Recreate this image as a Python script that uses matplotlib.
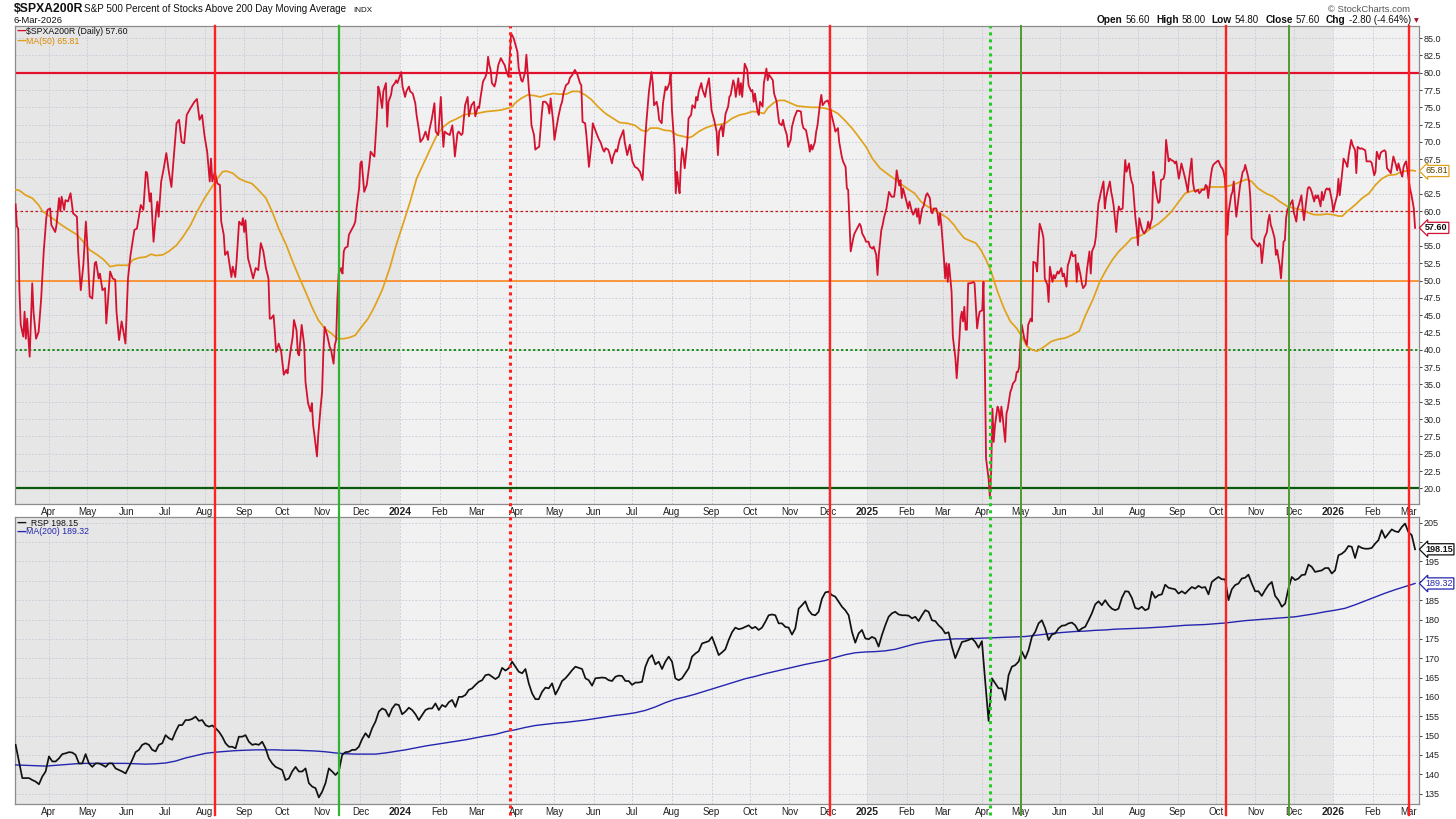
import matplotlib
matplotlib.use('Agg')
import matplotlib.pyplot as plt
import matplotlib.dates as mdates
from datetime import datetime
import pandas as pd

# ---------------- DATA ----------------
pct_dates = [
'2023-03-06','2023-03-07','2023-03-08','2023-03-09','2023-03-10','2023-03-12','2023-03-13','2023-03-14','2023-03-15','2023-03-17',
'2023-03-19','2023-03-20','2023-03-22','2023-03-24','2023-03-26','2023-03-28','2023-03-30','2023-03-31','2023-04-02','2023-04-03',
'2023-04-06','2023-04-07','2023-04-09','2023-04-10','2023-04-11','2023-04-13','2023-04-14','2023-04-16','2023-04-18','2023-04-20',
'2023-04-23','2023-04-24','2023-04-26','2023-04-28','2023-04-30','2023-05-01','2023-05-03','2023-05-05','2023-05-07','2023-05-08',
'2023-05-10','2023-05-11','2023-05-13','2023-05-15','2023-05-16','2023-05-19','2023-05-21','2023-05-23','2023-05-24','2023-05-26',
'2023-05-28','2023-05-29','2023-05-31','2023-06-02','2023-06-04','2023-06-07','2023-06-09','2023-06-12','2023-06-14','2023-06-16',
'2023-06-17','2023-06-19','2023-06-20','2023-06-22','2023-06-24','2023-06-25','2023-06-26','2023-06-28','2023-06-30','2023-07-02',
'2023-07-04','2023-07-06','2023-07-07','2023-07-10','2023-07-12','2023-07-14','2023-07-16','2023-07-18','2023-07-21','2023-07-24',
'2023-07-26','2023-07-28','2023-07-30','2023-08-01','2023-08-03','2023-08-05','2023-08-06','2023-08-07','2023-08-09','2023-08-11',
'2023-08-13','2023-08-14','2023-08-16','2023-08-17','2023-08-19','2023-08-20','2023-08-22','2023-08-23','2023-08-25','2023-08-26',
'2023-08-28','2023-08-30','2023-08-31','2023-09-01','2023-09-02','2023-09-04','2023-09-06','2023-09-08','2023-09-10','2023-09-12',
'2023-09-14','2023-09-16','2023-09-18','2023-09-20','2023-09-21','2023-09-22','2023-09-24','2023-09-25','2023-09-26','2023-09-28',
'2023-09-30','2023-10-02','2023-10-04','2023-10-05','2023-10-07','2023-10-09','2023-10-10','2023-10-12','2023-10-13','2023-10-14',
'2023-10-16','2023-10-18','2023-10-19','2023-10-21','2023-10-23','2023-10-24','2023-10-25','2023-10-26','2023-10-28','2023-10-29',
'2023-10-31','2023-11-01','2023-11-02','2023-11-03','2023-11-05','2023-11-07','2023-11-08','2023-11-10','2023-11-11','2023-11-12',
'2023-11-13','2023-11-14','2023-11-16','2023-11-17','2023-11-18','2023-11-19','2023-11-21','2023-11-22','2023-11-24','2023-11-26',
'2023-11-27','2023-11-28','2023-11-30','2023-12-01','2023-12-02','2023-12-04','2023-12-06','2023-12-08','2023-12-09','2023-12-11',
'2023-12-12','2023-12-14','2023-12-15','2023-12-16','2023-12-18','2023-12-19','2023-12-21','2023-12-22','2023-12-23','2023-12-25',
'2023-12-26','2023-12-28','2023-12-29','2023-12-30',
'2024-01-02','2024-01-03','2024-01-05','2024-01-06','2024-01-08','2024-01-09','2024-01-11','2024-01-13','2024-01-14','2024-01-16',
'2024-01-17','2024-01-19','2024-01-21','2024-01-23','2024-01-24','2024-01-26','2024-01-28','2024-01-29','2024-01-31','2024-02-02',
'2024-02-03','2024-02-04','2024-02-05','2024-02-07','2024-02-09','2024-02-11','2024-02-12','2024-02-13','2024-02-15','2024-02-16',
'2024-02-18','2024-02-19','2024-02-21','2024-02-23','2024-02-24','2024-02-26','2024-02-28','2024-02-29','2024-03-02','2024-03-03',
'2024-03-04','2024-03-06','2024-03-08','2024-03-09','2024-03-10','2024-03-11','2024-03-12','2024-03-13','2024-03-15','2024-03-16',
'2024-03-18','2024-03-20','2024-03-22','2024-03-23','2024-03-24','2024-03-26','2024-03-27','2024-03-28','2024-03-30','2024-04-02',
'2024-04-03','2024-04-05','2024-04-06','2024-04-08','2024-04-09','2024-04-11','2024-04-12','2024-04-13','2024-04-15','2024-04-16',
'2024-04-18','2024-04-19','2024-04-21','2024-04-22','2024-04-24','2024-04-26','2024-04-27','2024-04-28','2024-04-30','2024-05-01',
'2024-05-02','2024-05-04','2024-05-06','2024-05-07','2024-05-08','2024-05-10','2024-05-12','2024-05-13','2024-05-15','2024-05-17',
'2024-05-19','2024-05-21','2024-05-22','2024-05-23','2024-05-25','2024-05-26','2024-05-28','2024-05-30','2024-05-31','2024-06-01',
'2024-06-03','2024-06-05','2024-06-06','2024-06-08','2024-06-09','2024-06-10','2024-06-12','2024-06-13','2024-06-15','2024-06-16',
'2024-06-18','2024-06-19','2024-06-21','2024-06-24','2024-06-25','2024-06-27','2024-06-29','2024-06-30','2024-07-01','2024-07-03',
'2024-07-05','2024-07-07','2024-07-09','2024-07-10','2024-07-12','2024-07-13','2024-07-14','2024-07-16','2024-07-17','2024-07-18',
'2024-07-20','2024-07-21','2024-07-22','2024-07-24','2024-07-25','2024-07-27','2024-07-28','2024-07-30','2024-07-31','2024-08-01',
'2024-08-03','2024-08-04','2024-08-05','2024-08-06','2024-08-07','2024-08-08','2024-08-09','2024-08-10','2024-08-11','2024-08-12',
'2024-08-13','2024-08-14','2024-08-16','2024-08-17','2024-08-19','2024-08-20','2024-08-21','2024-08-22','2024-08-24','2024-08-25',
'2024-08-27','2024-08-28','2024-08-30','2024-09-01','2024-09-03','2024-09-05','2024-09-06','2024-09-07','2024-09-09','2024-09-10',
'2024-09-11','2024-09-12','2024-09-14','2024-09-15','2024-09-16','2024-09-18','2024-09-19','2024-09-20','2024-09-22','2024-09-23',
'2024-09-24','2024-09-25','2024-09-27','2024-09-29','2024-09-30','2024-10-02','2024-10-03','2024-10-04','2024-10-05','2024-10-07',
'2024-10-08','2024-10-09','2024-10-11','2024-10-12','2024-10-14','2024-10-15','2024-10-16','2024-10-18','2024-10-19','2024-10-20',
'2024-10-22','2024-10-23','2024-10-24','2024-10-26','2024-10-27','2024-10-28','2024-10-30','2024-10-31','2024-11-02','2024-11-03',
'2024-11-05','2024-11-07','2024-11-08','2024-11-10','2024-11-11','2024-11-12','2024-11-14','2024-11-16','2024-11-17','2024-11-18',
'2024-11-19','2024-11-21','2024-11-22','2024-11-23','2024-11-25','2024-11-26','2024-11-27','2024-11-29','2024-12-01','2024-12-03',
'2024-12-04','2024-12-06','2024-12-07','2024-12-09','2024-12-10','2024-12-12','2024-12-13','2024-12-15','2024-12-16','2024-12-17',
'2024-12-18','2024-12-19','2024-12-21','2024-12-22','2024-12-24','2024-12-26','2024-12-27','2024-12-28','2024-12-30','2024-12-31',
'2025-01-02','2025-01-03','2025-01-05','2025-01-06','2025-01-08','2025-01-09','2025-01-10','2025-01-12','2025-01-13','2025-01-14',
'2025-01-16','2025-01-17','2025-01-18','2025-01-20','2025-01-22','2025-01-23','2025-01-24','2025-01-26','2025-01-27','2025-01-28',
'2025-01-29','2025-01-31','2025-02-02','2025-02-03','2025-02-05','2025-02-06','2025-02-08','2025-02-09','2025-02-10','2025-02-11',
'2025-02-13','2025-02-14','2025-02-16','2025-02-17','2025-02-19','2025-02-20','2025-02-21','2025-02-22','2025-02-24','2025-02-25',
'2025-02-26','2025-02-27','2025-02-28','2025-03-02','2025-03-03','2025-03-04','2025-03-05','2025-03-06','2025-03-08','2025-03-09',
'2025-03-11','2025-03-12','2025-03-14','2025-03-15','2025-03-16','2025-03-17','2025-03-18','2025-03-19','2025-03-20','2025-03-21',
'2025-03-23','2025-03-25','2025-03-26','2025-03-28','2025-03-29','2025-03-30','2025-04-01','2025-04-02','2025-04-03','2025-04-04',
'2025-04-06','2025-04-07','2025-04-08','2025-04-09','2025-04-10','2025-04-11','2025-04-13','2025-04-14','2025-04-15','2025-04-16',
'2025-04-17','2025-04-19','2025-04-20','2025-04-21','2025-04-23','2025-04-24','2025-04-25','2025-04-27','2025-04-28','2025-04-29',
'2025-04-30','2025-05-01','2025-05-02','2025-05-04','2025-05-06','2025-05-07','2025-05-09','2025-05-10','2025-05-11','2025-05-13',
'2025-05-14','2025-05-15','2025-05-16','2025-05-18','2025-05-19','2025-05-20','2025-05-22','2025-05-23','2025-05-24','2025-05-26',
'2025-05-27','2025-05-28','2025-05-30','2025-05-31','2025-06-02','2025-06-03','2025-06-04','2025-06-06','2025-06-07','2025-06-08',
'2025-06-10','2025-06-11','2025-06-13','2025-06-14','2025-06-15','2025-06-17','2025-06-18','2025-06-19','2025-06-21','2025-06-22',
'2025-06-24','2025-06-25','2025-06-26','2025-06-28','2025-06-29','2025-07-01','2025-07-02','2025-07-03','2025-07-05','2025-07-06',
'2025-07-07','2025-07-08','2025-07-10','2025-07-11','2025-07-12','2025-07-13','2025-07-15','2025-07-16','2025-07-17','2025-07-18',
'2025-07-20','2025-07-21','2025-07-22','2025-07-23','2025-07-25','2025-07-26','2025-07-27','2025-07-28','2025-07-30','2025-07-31',
'2025-08-01','2025-08-02','2025-08-04','2025-08-05','2025-08-06','2025-08-08','2025-08-09','2025-08-10','2025-08-12','2025-08-13',
'2025-08-14','2025-08-16','2025-08-17','2025-08-18','2025-08-19','2025-08-21','2025-08-22','2025-08-23','2025-08-25','2025-08-26',
'2025-08-27','2025-08-29','2025-08-30','2025-08-31','2025-09-02','2025-09-03','2025-09-04','2025-09-05','2025-09-07','2025-09-08',
'2025-09-09','2025-09-10','2025-09-12','2025-09-13','2025-09-14','2025-09-15','2025-09-17','2025-09-18','2025-09-19','2025-09-20',
'2025-09-22','2025-09-23','2025-09-24','2025-09-25','2025-09-27','2025-09-28','2025-09-29','2025-09-30','2025-10-02','2025-10-03',
'2025-10-05','2025-10-06','2025-10-07','2025-10-08','2025-10-09','2025-10-10','2025-10-11','2025-10-13','2025-10-14','2025-10-15',
'2025-10-16','2025-10-17','2025-10-19','2025-10-20','2025-10-21','2025-10-22','2025-10-23','2025-10-24','2025-10-26','2025-10-27',
'2025-10-28','2025-10-29','2025-10-30','2025-10-31','2025-11-01','2025-11-03','2025-11-04','2025-11-05','2025-11-06','2025-11-08',
'2025-11-10','2025-11-11','2025-11-12','2025-11-13','2025-11-14','2025-11-16','2025-11-17','2025-11-18','2025-11-19','2025-11-20',
'2025-11-21','2025-11-23','2025-11-24','2025-11-25','2025-11-26','2025-11-28','2025-11-30','2025-12-01','2025-12-03','2025-12-04',
'2025-12-05','2025-12-07','2025-12-08','2025-12-09','2025-12-10','2025-12-12','2025-12-13','2025-12-14','2025-12-15','2025-12-17',
'2025-12-18','2025-12-19','2025-12-20','2025-12-22','2025-12-23','2025-12-24','2025-12-26','2025-12-27','2025-12-28','2025-12-29',
'2025-12-31','2026-01-01','2026-01-02','2026-01-04','2026-01-05','2026-01-06','2026-01-08','2026-01-09','2026-01-11','2026-01-12',
'2026-01-13','2026-01-15','2026-01-16','2026-01-18','2026-01-19','2026-01-20','2026-01-22','2026-01-23','2026-01-24','2026-01-26',
'2026-01-27','2026-01-29','2026-01-30','2026-01-31','2026-02-02','2026-02-03','2026-02-04','2026-02-06','2026-02-07','2026-02-08',
'2026-02-10','2026-02-11','2026-02-12','2026-02-13','2026-02-15','2026-02-16','2026-02-17','2026-02-19','2026-02-20','2026-02-21',
'2026-02-23','2026-02-24','2026-02-25','2026-02-26','2026-02-27','2026-03-02','2026-03-03','2026-03-04','2026-03-05','2026-03-06',
]
pct_values = [
61.0,57.8,57.5,48.4,43.6,41.9,45.5,41.6,44.5,39.0,
49.6,45.5,41.6,42.6,47.4,54.2,59.0,60.2,60.4,58.0,
57.0,58.0,61.9,60.0,62.1,60.2,61.6,61.4,62.6,59.7,
59.2,54.2,48.6,52.2,58.5,55.6,47.7,47.4,52.5,52.7,
50.3,51.0,48.6,48.9,43.8,51.3,50.3,50.1,45.5,41.4,
44.1,43.1,40.9,50.3,53.7,57.3,57.5,60.9,60.2,65.7,
65.5,61.4,62.6,55.6,59.9,61.4,59.2,64.3,66.2,68.4,
65.7,63.5,65.9,72.7,73.2,70.0,69.8,73.9,74.9,75.8,
76.2,73.2,73.9,70.8,68.6,64.3,67.6,64.3,65.7,64.0,
63.8,58.5,56.6,53.7,54.2,53.0,50.5,52.0,50.5,52.7,
58.5,58.0,59.0,57.0,58.7,53.2,51.8,50.3,51.8,51.5,
55.4,54.2,51.8,50.3,44.5,44.5,45.0,42.6,39.7,40.9,
39.7,36.4,37.1,36.6,39.5,41.9,44.3,42.8,39.5,39.2,
43.6,40.7,35.4,32.3,31.1,32.3,29.1,27.7,24.6,27.7,
32.0,33.9,39.7,43.3,42.1,40.4,40.0,38.0,40.7,41.4,
47.4,51.0,51.8,51.0,54.2,54.7,54.9,56.6,57.3,58.0,
58.5,60.4,63.3,66.9,67.2,62.8,63.8,66.7,68.6,68.1,
67.9,73.9,78.0,77.3,74.9,77.3,78.5,72.2,75.8,76.8,
78.0,78.5,78.9,78.5,
80.1,78.0,76.5,77.3,78.0,77.3,77.0,75.6,73.9,71.5,
70.0,70.5,71.5,70.3,71.7,73.4,75.6,71.5,71.0,76.5,
72.4,69.3,71.5,71.2,71.0,72.4,70.5,67.9,71.2,71.5,
71.0,71.2,75.3,76.5,73.7,75.3,75.8,73.7,75.1,74.9,
76.3,78.7,79.4,80.1,82.3,81.1,80.4,78.5,78.0,78.7,
81.1,82.1,81.4,81.1,80.4,79.4,82.3,85.7,85.0,83.0,
80.6,78.9,78.7,80.1,82.6,77.5,75.8,72.4,71.0,68.9,
69.2,69.3,73.9,75.8,75.8,75.3,74.1,76.3,72.9,70.3,
71.5,73.6,75.3,75.8,77.0,78.2,78.5,79.2,79.7,80.4,
79.7,78.5,78.2,72.9,72.7,71.0,66.4,69.8,72.7,72.2,
71.2,70.3,70.0,68.9,68.6,69.1,68.9,68.4,66.9,67.9,
68.9,68.6,70.3,71.7,70.0,68.1,69.6,68.4,67.2,66.4,
66.2,65.7,64.5,67.6,72.9,75.1,77.3,80.1,78.5,75.3,
75.8,74.9,73.2,72.7,75.6,78.0,77.5,78.5,80.0,74.6,
69.3,62.6,65.7,63.8,62.6,66.7,69.1,68.1,66.2,68.1,
70.0,73.4,73.9,75.3,74.9,76.5,76.0,77.3,78.5,77.5,
76.5,77.7,79.2,74.6,73.2,71.5,68.1,71.5,72.4,70.8,
72.4,74.1,75.1,76.5,76.8,78.9,78.2,76.5,79.2,76.8,
78.5,76.5,81.3,80.4,78.2,77.3,77.5,75.8,77.0,74.4,
73.9,75.8,75.1,78.5,80.6,78.9,79.7,79.2,78.9,77.0,
75.8,74.1,72.7,72.4,73.2,72.2,71.0,69.3,70.3,72.2,
73.6,74.5,74.5,74.4,72.7,72.0,71.7,69.8,68.6,69.6,
68.9,70.0,71.5,72.4,75.6,76.8,75.3,75.8,76.0,74.9,
73.9,72.4,71.5,72.0,70.0,67.9,67.2,66.4,63.3,63.1,
58.5,54.2,56.1,56.8,57.5,58.2,57.8,56.8,56.1,55.6,
55.6,54.9,54.6,54.9,53.7,50.8,53.7,57.3,58.0,59.0,
60.4,61.6,62.8,62.1,62.1,63.5,65.9,63.7,64.5,61.9,
63.3,61.9,60.4,61.4,59.9,59.5,60.4,59.2,60.4,58.2,
60.4,60.7,62.3,62.6,61.9,59.9,59.7,60.4,60.4,59.7,
58.0,59.7,58.0,53.2,50.3,52.5,49.8,52.4,48.4,41.9,
38.8,35.9,41.2,44.5,45.5,44.1,46.2,42.9,42.9,49.6,
49.6,49.8,49.6,43.1,44.5,45.5,45.7,49.8,38.8,24.3,
21.4,18.8,22.4,31.5,26.7,29.1,31.8,31.3,29.6,31.8,
30.3,26.7,30.8,31.5,33.9,34.4,35.1,35.6,36.8,36.8,
37.6,41.2,43.6,41.6,40.7,43.6,44.5,44.1,52.7,52.5,
51.3,55.1,58.2,57.0,56.1,50.3,49.4,46.9,52.0,49.8,
50.8,50.3,51.3,51.0,51.8,50.6,51.0,49.1,52.2,52.7,
54.2,53.5,53.7,49.8,52.5,50.8,49.6,48.9,49.4,51.5,
54.2,51.0,54.2,55.1,56.3,61.1,61.9,62.8,64.3,60.4,
61.9,62.8,64.3,62.8,61.9,60.7,57.0,59.5,60.7,60.2,
60.4,64.3,67.4,65.7,66.9,65.2,64.3,63.8,59.0,57.5,
55.1,59.0,57.5,57.0,56.8,57.5,58.5,57.5,59.0,65.7,
64.3,61.9,61.2,61.4,64.5,64.7,65.5,70.3,67.2,67.6,
67.4,67.2,66.9,67.2,64.7,65.7,66.9,66.2,64.7,63.8,
62.8,64.7,67.6,64.3,63.1,62.8,63.1,62.6,62.8,63.1,
63.1,63.8,63.6,61.9,65.0,66.2,66.7,66.9,67.2,67.3,
66.4,66.2,65.7,64.7,62.3,56.6,59.9,62.3,62.8,64.3,
61.4,59.2,62.3,63.8,64.7,65.7,65.9,66.7,65.2,64.3,
61.9,56.1,55.8,55.6,55.3,54.9,55.4,55.1,52.5,56.1,
57.0,58.7,59.5,58.0,57.5,56.1,53.7,54.4,53.2,52.2,
50.3,55.6,55.8,59.0,60.2,60.9,61.6,59.9,58.5,60.4,
60.9,62.3,60.4,58.7,60.2,63.3,63.5,63.3,62.8,61.4,
62.3,61.9,62.3,60.7,62.8,61.6,63.1,63.3,63.1,63.3,
61.4,59.9,60.9,62.3,64.7,62.3,65.7,67.6,66.9,66.4,
68.1,70.3,69.6,68.8,65.5,69.3,69.0,69.1,69.0,68.8,
67.2,67.2,67.2,67.0,65.2,65.7,68.6,67.5,68.4,68.6,
68.8,68.6,66.2,66.0,65.5,66.7,67.9,66.7,65.9,66.9,
65.5,65.0,66.4,66.9,67.2,63.3,62.5,61.5,60.4,57.6,
]

ma50_dates = [
'2023-03-06','2023-03-09','2023-03-14','2023-03-19','2023-03-24','2023-03-27','2023-03-31','2023-04-06','2023-04-11','2023-04-17',
'2023-04-23','2023-04-28','2023-05-03','2023-05-09','2023-05-14','2023-05-19','2023-05-24','2023-05-29','2023-06-02','2023-06-06',
'2023-06-11','2023-06-16','2023-06-20','2023-06-24','2023-06-29','2023-07-04','2023-07-10','2023-07-15','2023-07-21','2023-07-26',
'2023-08-01','2023-08-06','2023-08-11','2023-08-15','2023-08-18','2023-08-23','2023-08-28','2023-09-02','2023-09-07','2023-09-12',
'2023-09-18','2023-09-23','2023-09-28','2023-10-04','2023-10-09','2023-10-14','2023-10-19','2023-10-24','2023-10-29','2023-11-03',
'2023-11-08','2023-11-13','2023-11-18','2023-11-23','2023-11-27','2023-12-01','2023-12-07','2023-12-12','2023-12-18','2023-12-24',
'2023-12-29','2024-01-04','2024-01-09','2024-01-14','2024-01-19','2024-01-25','2024-01-30','2024-02-04','2024-02-09','2024-02-15',
'2024-02-20','2024-02-25','2024-03-01','2024-03-06','2024-03-09','2024-03-15','2024-03-20','2024-03-26','2024-03-29','2024-03-31',
'2024-04-05','2024-04-10','2024-04-15','2024-04-20','2024-04-25','2024-04-30','2024-05-05','2024-05-10','2024-05-15','2024-05-20',
'2024-05-25','2024-05-30','2024-06-04','2024-06-10','2024-06-16','2024-06-21','2024-06-27','2024-07-03','2024-07-08','2024-07-12',
'2024-07-15','2024-07-21','2024-07-26','2024-07-31','2024-08-05','2024-08-10','2024-08-14','2024-08-17','2024-08-22','2024-08-27',
'2024-09-02','2024-09-07','2024-09-12','2024-09-17','2024-09-23','2024-09-28','2024-10-03','2024-10-08','2024-10-12','2024-10-15',
'2024-10-20','2024-10-24','2024-10-28','2024-11-02','2024-11-07','2024-11-12','2024-11-18','2024-11-23','2024-11-28','2024-12-04',
'2024-12-09','2024-12-14','2024-12-20','2024-12-25','2024-12-31','2025-01-05','2025-01-11','2025-01-16','2025-01-22','2025-01-27',
'2025-02-01','2025-02-07','2025-02-12','2025-02-17','2025-02-22','2025-02-27','2025-03-05','2025-03-10','2025-03-13','2025-03-18',
'2025-03-23','2025-03-27','2025-03-31','2025-04-04','2025-04-08','2025-04-13','2025-04-18','2025-04-23','2025-04-28','2025-05-02',
'2025-05-06','2025-05-10','2025-05-14','2025-05-20','2025-05-25','2025-05-30','2025-06-05','2025-06-10','2025-06-16','2025-06-21',
'2025-06-27','2025-07-02','2025-07-07','2025-07-12','2025-07-17','2025-07-22','2025-07-27','2025-08-01','2025-08-06','2025-08-11',
'2025-08-17','2025-08-22','2025-08-27','2025-09-02','2025-09-07','2025-09-12','2025-09-17','2025-09-22','2025-09-27','2025-10-02',
'2025-10-07','2025-10-12','2025-10-17','2025-10-22','2025-10-25','2025-10-29','2025-11-03','2025-11-09','2025-11-15','2025-11-20',
'2025-11-26','2025-12-02','2025-12-07','2025-12-12','2025-12-17','2025-12-22','2025-12-27','2026-01-01','2026-01-05','2026-01-08',
'2026-01-12','2026-01-18','2026-01-23','2026-01-29','2026-02-03','2026-02-08','2026-02-13','2026-02-19','2026-02-22','2026-02-26',
'2026-03-04','2026-03-06',
]
ma50_values = [
63.1,63.0,62.3,61.9,60.9,60.0,59.5,58.7,58.0,57.3,
56.6,55.6,54.4,53.7,53.0,52.0,52.2,52.2,52.2,53.0,
53.3,53.4,53.8,53.6,53.7,54.2,55.1,56.3,58.0,59.9,
61.9,63.3,64.7,65.7,65.8,65.5,64.7,64.3,64.0,63.1,
61.9,59.9,57.5,55.1,52.7,50.5,48.4,46.2,44.3,43.1,
42.4,41.6,41.6,41.8,42.1,43.1,44.5,46.2,48.6,51.8,
55.1,58.5,61.4,64.7,66.7,69.1,71.0,72.2,72.9,73.4,
73.9,74.1,74.1,74.3,74.4,74.5,74.6,74.9,75.1,75.6,
76.3,76.8,76.7,76.5,76.8,77.0,76.9,76.9,77.3,77.3,
76.8,76.1,75.1,74.1,73.4,72.8,72.7,72.4,71.7,71.5,
72.0,72.0,71.7,71.6,71.0,70.8,70.6,70.8,71.5,72.0,
72.4,72.5,72.7,73.4,73.9,74.1,74.4,74.3,74.1,74.9,
75.7,76.0,76.0,75.6,75.2,75.1,75.0,75.0,74.9,74.6,
74.1,73.2,72.0,70.8,69.3,67.6,66.2,65.5,64.7,64.0,
63.3,62.6,61.4,60.7,60.2,59.7,59.0,58.0,57.2,56.1,
55.7,55.4,54.4,53.0,51.3,48.4,46.0,44.1,43.1,41.9,
40.5,40.0,39.8,40.5,41.2,41.5,41.7,42.1,42.7,45.0,
47.4,49.8,51.5,53.0,54.2,55.1,56.1,56.3,56.8,57.5,
58.2,59.0,59.9,61.4,62.6,62.9,63.1,63.3,63.5,63.5,
63.5,63.7,64.0,64.4,64.6,64.3,63.3,62.6,62.1,61.4,
60.7,60.4,60.2,59.8,59.5,59.5,59.6,59.5,59.3,59.3,
60.0,60.9,61.8,62.6,63.8,64.7,65.2,65.3,65.6,65.8,
65.9,65.81,
]

# _RSP closes, read at evenly spaced points from 6-Mar-2023 to 6-Mar-2026
rsp_values = [
147.6,143.3,139.0,139.0,139.0,138.5,138.1,137.4,139.4,140.7,144.6,143.3,143.3,144.1,145.2,145.4,145.7,145.6,145.0,142.8,
142.8,145.2,142.8,141.9,142.8,142.8,142.4,141.9,142.8,142.8,141.5,141.1,140.7,140.2,141.9,143.7,145.7,146.3,147.6,148.0,
147.6,146.3,145.9,147.6,148.0,150.1,149.3,148.9,151.0,152.7,152.7,154.0,154.0,154.3,154.9,153.8,154.0,152.7,152.3,152.6,
151.9,151.0,149.7,148.0,147.1,147.1,146.7,149.7,149.7,150.1,148.4,147.6,147.8,147.6,148.4,146.7,144.1,142.8,141.9,141.5,
141.1,138.5,138.9,140.7,141.9,140.7,140.7,141.5,137.7,136.8,136.4,134.0,135.5,137.7,141.5,140.7,139.8,140.7,145.0,145.7,
145.8,146.3,146.3,147.1,149.1,150.6,149.5,151.9,153.6,156.2,157.0,156.6,154.9,157.0,158.1,157.9,155.5,156.2,157.2,156.6,
155.5,154.0,155.3,156.6,157.0,157.0,158.3,156.6,157.9,157.4,158.6,159.2,157.4,160.0,160.0,160.5,161.8,162.2,163.1,163.9,
164.3,165.6,165.8,
165.2,164.6,165.2,167.5,166.8,167.4,169.1,167.8,166.5,166.1,167.2,163.5,160.9,159.4,159.4,161.3,162.4,162.2,163.5,160.6,
162.2,164.1,164.8,165.8,166.9,167.8,167.5,167.2,164.8,164.3,162.9,164.8,164.9,165.0,164.9,164.3,164.1,165.2,165.5,165.4,
164.1,164.1,163.1,163.7,163.7,163.9,167.8,169.9,170.8,168.4,169.1,167.2,169.1,170.4,169.1,164.8,164.3,164.8,166.1,167.4,
170.4,171.2,171.8,173.8,174.1,174.4,175.5,173.2,170.8,171.5,172.3,174.7,176.7,177.9,177.5,177.7,178.1,178.5,177.7,178.1,
177.3,177.9,179.4,181.1,181.3,181.1,179.0,179.0,178.1,177.9,176.1,177.7,182.8,183.7,184.7,182.4,181.3,181.1,182.0,185.4,
187.0,187.2,186.3,185.9,184.6,183.3,182.4,181.1,176.8,174.0,176.4,177.3,175.1,174.9,175.5,175.1,173.0,176.0,178.5,180.7,
181.6,182.0,181.3,181.1,181.1,181.0,180.3,180.7,179.6,181.1,182.4,182.0,179.8,179.6,178.5,177.7,176.4,176.7,173.0,170.0,
172.1,
174.2,174.4,174.7,175.1,174.2,172.7,174.4,163.9,153.8,164.8,163.5,162.2,162.2,159.2,165.6,167.8,168.2,169.1,171.7,169.9,
172.1,175.5,176.8,179.0,179.8,177.7,174.7,176.1,176.4,177.7,178.4,178.5,179.0,179.2,178.5,177.0,177.7,178.1,179.8,181.6,
183.9,184.7,183.7,185.0,183.7,182.8,182.4,182.8,185.6,187.3,187.2,185.6,183.0,182.7,183.3,182.4,182.8,187.2,185.6,186.3,
186.5,189.0,188.2,188.0,187.8,186.7,187.3,186.7,187.6,188.4,188.0,188.7,188.2,188.4,186.5,189.7,190.4,191.0,190.4,190.4,
185.0,187.8,188.9,189.3,190.6,190.8,191.6,189.3,187.3,187.3,186.1,187.6,188.9,189.7,186.1,185.0,183.3,184.1,188.0,191.0,
190.2,190.6,191.5,191.6,194.2,193.6,192.3,192.5,192.7,193.3,193.3,191.9,192.7,196.6,197.0,197.7,199.0,198.8,195.9,199.0,
198.5,198.3,198.3,198.5,199.6,200.5,203.1,201.1,202.2,203.3,202.8,202.6,203.9,204.8,202.6,201.8,198.15,
]

# MA(200) of _RSP, read at evenly spaced points over the same span
rsp_ma200_values = [
142.4,142.3,142.2,142.1,142.3,142.5,142.7,142.8,142.8,142.8,142.8,142.8,142.7,142.6,142.7,142.9,143.4,144.2,144.8,145.4,
145.7,145.9,146.1,146.2,146.3,146.3,146.3,146.2,146.2,146.1,146.0,145.8,145.5,145.3,145.2,145.2,145.2,145.5,145.9,146.3,
146.8,147.3,147.7,148.1,148.5,148.9,149.4,149.9,
150.3,151.0,151.5,152.1,152.6,152.9,153.2,153.4,153.7,154.0,154.4,154.8,155.2,155.5,155.9,156.5,157.4,158.5,159.4,160.0,
160.7,161.5,162.3,163.1,163.9,164.7,165.3,166.0,166.6,167.2,167.8,168.4,168.9,169.4,170.2,170.9,171.4,171.6,171.7,171.9,
172.3,173.0,173.7,174.2,174.6,174.8,175.0,
175.0,175.1,175.2,175.3,175.4,175.5,175.6,175.9,176.2,176.5,176.7,176.9,177.0,177.2,177.3,177.5,177.6,177.7,177.8,177.95,
178.1,178.3,178.5,178.6,178.7,178.9,179.1,179.4,179.7,179.9,180.1,180.3,180.5,180.7,181.1,181.5,182.0,182.4,182.9,183.8,
184.8,185.8,186.8,187.7,188.5,189.32,
]
series_start, series_end = '2023-03-06', '2026-03-06'

# signal lines: (date, kind)
signal_dates = ['2023-08-09', '2023-11-14', '2024-03-27', '2024-12-03', '2025-04-07',
                '2025-05-01', '2025-10-09', '2025-11-27', '2026-03-01']
signal_kinds = ['sell', 'buy', 'sell_watch', 'sell', 'buy_watch',
                'buy2', 'sell', 'buy2', 'sell']

pct_levels = [80, 60, 50, 40, 20]
pct_ticks = [20 + 2.5 * i for i in range(27)]
rsp_ticks = list(range(135, 206, 5))
month_abbr = ['Jan', 'Feb', 'Mar', 'Apr', 'May', 'Jun', 'Jul', 'Aug', 'Sep', 'Oct', 'Nov', 'Dec']

# ---------------- FIGURE ----------------
W, H = 1456, 819
fig = plt.figure(figsize=(W / 100, H / 100), dpi=100, facecolor='white')
ax1 = fig.add_axes([15 / W, 1 - 504 / H, 1404 / W, 478 / H])
ax2 = fig.add_axes([15 / W, 1 - 804 / H, 1404 / W, 287 / H])

d2n = lambda seq: mdates.date2num(pd.to_datetime(seq).to_pydatetime())
x_pct = d2n(pct_dates)
x_ma50 = d2n(ma50_dates)
x_rsp = d2n(pd.date_range(series_start, series_end, periods=len(rsp_values)))
x_ma200 = d2n(pd.date_range(series_start, series_end, periods=len(rsp_ma200_values)))

xmin = mdates.date2num(datetime(2023, 3, 5, 12))
xmax = mdates.date2num(datetime(2026, 3, 9, 2))
month_starts = pd.date_range('2023-04-01', '2026-03-01', freq='MS')
xt = d2n(month_starts)
xl = [str(d.year) if d.month == 1 else month_abbr[d.month - 1] for d in month_starts]

FONT = 'Liberation Sans'
grid_kw = dict(color='#c3c9d6', linewidth=0.6, linestyle=(0, (2, 2)))

for ax in (ax1, ax2):
    ax.set_facecolor('#f1f1f1')
    ax.axvspan(xmin, mdates.date2num(datetime(2024, 1, 1)), color='#e6e6e6', zorder=0, lw=0)
    ax.axvspan(mdates.date2num(datetime(2025, 1, 1)), mdates.date2num(datetime(2026, 1, 1)),
               color='#e6e6e6', zorder=0, lw=0)
    ax.set_xlim(xmin, xmax)
    ax.set_xticks(xt)
    ax.set_xticklabels(xl)
    ax.tick_params(axis='x', length=0, pad=2, labelsize=7, colors='#222222')
    for lab, d in zip(ax.get_xticklabels(), month_starts):
        lab.set_fontfamily(FONT)
        if d.month == 1:
            lab.set_fontweight('bold')
            lab.set_fontsize(7.5)
    ax.yaxis.tick_right()
    ax.tick_params(axis='y', length=2, pad=1.5, labelsize=6.5, colors='#222222', width=0.6)
    ax.grid(True, **grid_kw)
    ax.set_axisbelow(True)
    for sp in ax.spines.values():
        sp.set_color('#8c8c8c')
        sp.set_linewidth(0.9)

# top panel
ax1.set_ylim(17.74, 86.74)
ax1.set_yticks(pct_ticks)
ax1.set_yticklabels(['%.1f' % v for v in pct_ticks], fontfamily=FONT)
level_style = {80: dict(color='#e3102c', lw=1.6, ls='-'),
               60: dict(color='#c01818', lw=0.9, ls=(0, (2, 2))),
               50: dict(color='#ff7f0e', lw=1.1, ls='-'),
               40: dict(color='#1e8c1e', lw=1.4, ls=(0, (1.2, 1.2))),
               20: dict(color='#0b5a0b', lw=1.6, ls='-')}
for lv in pct_levels:
    ax1.axhline(lv, zorder=2, **level_style[lv])
ax1.plot(x_ma50, ma50_values, color='#e0a21c', lw=1.25, zorder=4)
ax1.plot(x_pct, pct_values, color='#d4112f', lw=1.3, zorder=5)

# bottom panel
ax2.set_ylim(132.3, 206.5)
ax2.set_yticks(rsp_ticks)
ax2.set_yticklabels([str(v) for v in rsp_ticks], fontfamily=FONT)
ax2.plot(x_ma200, rsp_ma200_values, color='#2525b0', lw=1.0, zorder=4)
ax2.plot(x_rsp, rsp_values, color='#111111', lw=1.25, zorder=5)

# hide axis labels that sit under the last-value tags (as on the original)
def hide_under(ax, ticks, tags, gap):
    for lab, v in zip(ax.get_yticklabels(), ticks):
        if any(abs(v - t) < gap for t in tags):
            lab.set_visible(False)

hide_under(ax1, pct_ticks, [ma50_values[-1], pct_values[-1]], 1.3)
hide_under(ax2, rsp_ticks, [rsp_values[-1], rsp_ma200_values[-1]], 2.6)

# signal lines spanning both panels
kind_style = {'sell': dict(color='#ff2020', lw=1.7, ls='-'),
              'sell_watch': dict(color='#ff2020', lw=2.2, ls=(0, (1, 1.3))),
              'buy': dict(color='#2fb52f', lw=1.6, ls='-'),
              'buy_watch': dict(color='#22cc22', lw=2.2, ls=(0, (1, 1.3))),
              'buy2': dict(color='#4f9a2c', lw=1.4, ls='-')}
ytop = (804 - 26) / 287.0
ybot = (804 - 815) / 287.0
for d, k in zip(signal_dates, signal_kinds):
    ax2.axvline(mdates.date2num(pd.Timestamp(d).to_pydatetime()), ymin=ybot, ymax=ytop,
                clip_on=False, zorder=6, **kind_style[k])

# value tags on the right axis
def tag(ax, y, s, edge, bold=False, color='#111111'):
    ax.annotate(s, xy=(1.0, y), xycoords=ax.get_yaxis_transform(), xytext=(4.5, 0),
                textcoords='offset points', ha='left', va='center', fontsize=6.5,
                fontfamily=FONT, fontweight='bold' if bold else 'normal', color=color,
                bbox=dict(boxstyle='larrow,pad=0.12', fc='white', ec=edge, lw=0.9),
                annotation_clip=False, zorder=10)

tag(ax1, ma50_values[-1], '%.2f' % ma50_values[-1], '#e0a21c', color='#5a4000')
tag(ax1, pct_values[-1], '%.2f' % pct_values[-1], '#d4112f', bold=True)
tag(ax2, rsp_values[-1], '%.2f' % rsp_values[-1], '#111111', bold=True)
tag(ax2, rsp_ma200_values[-1], '%.2f' % rsp_ma200_values[-1], '#2525b0', color='#2525b0')

# ---------------- TEXT ----------------
def ftext(xp, yp, s, **kw):
    kw.setdefault('va', 'center')
    kw.setdefault('fontfamily', FONT)
    return fig.text(xp / W, 1 - yp / H, s, **kw)

ftext(14, 9, r'\$SPXA200R', fontsize=8.8, fontweight='bold', color='#111111')
ftext(84, 9.5, 'S&P 500 Percent of Stocks Above 200 Day Moving Average', fontsize=7.1, color='#111111')
ftext(353, 10, 'INDX', fontsize=5.8, color='#111111')
ftext(14, 20.5, '6-Mar-2026', fontsize=6.8, color='#111111')
ftext(1410, 9.5, '\u00a9 StockCharts.com', fontsize=6.8, ha='right', color='#555555')

# legends
ftext(16.5, 31, '\u2014', fontsize=7, color='#d4112f', fontweight='bold', fontfamily='DejaVu Sans')
ftext(26, 31, r'\$SPXA200R (Daily) %.2f' % pct_values[-1], fontsize=6.3, color='#111111')
ftext(16.5, 41, '\u2014', fontsize=7, color='#e0a21c', fontweight='bold', fontfamily='DejaVu Sans')
ftext(26, 41, 'MA(50) %.2f' % ma50_values[-1], fontsize=6.3, color='#d98a00')
ftext(16.5, 522.5, '\u2014', fontsize=7, color='#111111', fontweight='bold', fontfamily='DejaVu Sans')
ftext(26, 522.5, '_RSP %.2f' % rsp_values[-1], fontsize=6.3, color='#111111')
ftext(16.5, 532, '\u2014', fontsize=7, color='#2525b0', fontweight='bold', fontfamily='DejaVu Sans')
ftext(26, 532, 'MA(200) %.2f' % rsp_ma200_values[-1], fontsize=6.3, color='#2525b0')

# OHLC header
fig.canvas.draw()
renderer = fig.canvas.get_renderer()
pieces = [('Open', 'bold'), ('56.60', 'normal'), ('High', 'bold'), ('58.00', 'normal'),
          ('Low', 'bold'), ('54.80', 'normal'), ('Close', 'bold'), ('57.60', 'normal'),
          ('Chg', 'bold'), ('-2.80 (-4.64%)', 'normal')]
xp = 1097
for i, (s, w) in enumerate(pieces):
    t = ftext(xp, 20, s, fontsize=7.3 if w == 'bold' else 7, fontweight=w, color='#111111')
    bb = t.get_window_extent(renderer=renderer)
    xp += bb.width + (3 if w == 'bold' else 6)
ftext(xp - 3, 20.5, '\u25bc', fontsize=4.5, color='#a0102a', fontfamily='DejaVu Sans')

fig.savefig('out.png', dpi=100, facecolor='white')
